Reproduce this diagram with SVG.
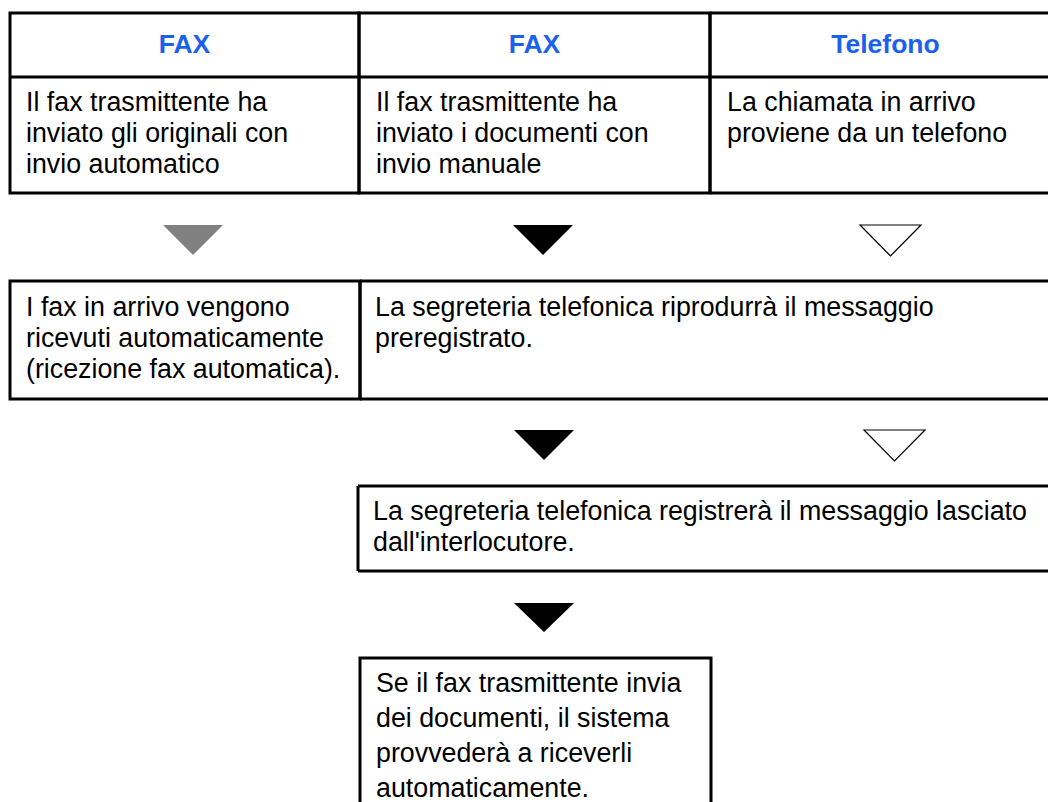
<svg xmlns="http://www.w3.org/2000/svg" width="1048" height="802" viewBox="0 0 1048 802">
<style>
.b{fill:none;stroke:#000;stroke-width:3}
.t{font-family:"Liberation Sans",Arial,sans-serif;font-size:26.8px;fill:#000}
.h{font-family:"Liberation Sans",Arial,sans-serif;font-size:26.5px;font-weight:bold;fill:#1a62ee;text-anchor:middle}
.dark{fill:#000}
.grey{fill:#808080}
.open{fill:#fff;stroke:#000;stroke-width:1.2}
</style>
<rect width="1048" height="802" fill="#fff"/>
<g id="col-fax-auto">
<path class="b" d="M10,13H359V193H10Z M10,77H359"/>
<text class="h" x="184.5" y="53">FAX</text>
<text class="t" x="26" y="111">Il fax trasmittente ha</text>
<text class="t" x="26" y="142">inviato gli originali con</text>
<text class="t" x="26" y="173">invio automatico</text>
</g>
<g id="col-fax-manual">
<path class="b" d="M359,13H710V193H359Z M359,77H710"/>
<text class="h" x="534.5" y="53">FAX</text>
<text class="t" x="376" y="111">Il fax trasmittente ha</text>
<text class="t" x="376" y="142">inviato i documenti con</text>
<text class="t" x="376" y="173">invio manuale</text>
</g>
<g id="col-telefono">
<path class="b" d="M710,13H1048 M710,77H1048 M710,193H1048 M710,13V193"/>
<text class="h" x="885.5" y="53">Telefono</text>
<text class="t" x="727" y="111">La chiamata in arrivo</text>
<text class="t" x="727" y="142">proviene da un telefono</text>
</g>
<g id="node-auto-receive">
<path class="b" d="M10,281H360V399H10Z"/>
<text class="t" x="26" y="316">I fax in arrivo vengono</text>
<text class="t" x="26" y="347">ricevuti automaticamente</text>
<text class="t" x="26" y="378">(ricezione fax automatica).</text>
</g>
<g id="node-playback">
<path class="b" d="M360,281H1048 M360,399H1048 M360,281V399"/>
<text class="t" x="375" y="316">La segreteria telefonica riprodurrà il messaggio</text>
<text class="t" x="375" y="347">preregistrato.</text>
</g>
<g id="node-record">
<path class="b" d="M358,486H1048 M358,571H1048 M358,486V571"/>
<text class="t" x="373" y="520">La segreteria telefonica registrerà il messaggio lasciato</text>
<text class="t" x="373" y="551">dall'interlocutore.</text>
</g>
<g id="node-receive">
<path class="b" d="M360,802V658H711V802"/>
<text class="t" x="376" y="692">Se il fax trasmittente invia</text>
<text class="t" x="376" y="727">dei documenti, il sistema</text>
<text class="t" x="376" y="762">provvederà a riceverli</text>
<text class="t" x="376" y="797">automaticamente.</text>
</g>
<g id="connectors">
<polygon class="grey" points="163,225 223,225 193,255"/>
<polygon class="dark" points="513,225 573,225 543,255"/>
<polygon class="open" points="860,225 921,225 890.5,256"/>
<polygon class="dark" points="514,430 574,430 544,460"/>
<polygon class="open" points="864,430 925,430 894.5,461"/>
<polygon class="dark" points="514,603 574,603 544,632"/>
</g>
</svg>
